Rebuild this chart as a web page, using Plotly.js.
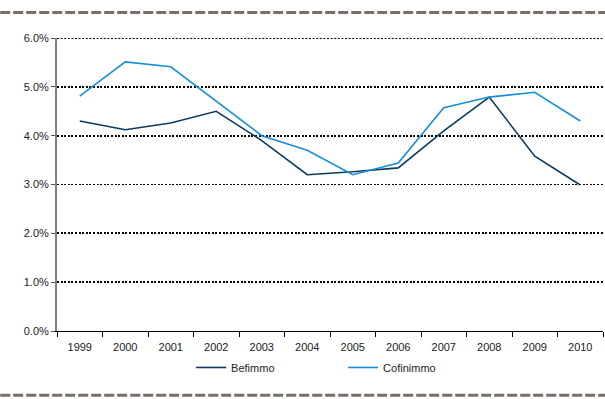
<!DOCTYPE html>
<html>
<head>
<meta charset="utf-8">
<script src="https://cdn.plot.ly/plotly-3.0.1.min.js"></script>
<style>
  html, body { margin: 0; padding: 0; background: #ffffff; }
  #chart { width: 605px; height: 399px; }
</style>
</head>
<body>
<div id="chart"></div>
<script>
// Yearly yields (%) of two Belgian property funds
var years = ['1999', '2000', '2001', '2002', '2003', '2004', '2005', '2006', '2007', '2008', '2009', '2010'];
var befimmo = [4.30, 4.12, 4.26, 4.50, 3.90, 3.20, 3.26, 3.34, 4.10, 4.79, 3.58, 2.99];
var cofinimmo = [4.81, 5.51, 5.41, 4.70, 4.00, 3.70, 3.20, 3.44, 4.57, 4.79, 4.89, 4.30];
var yTicks = [0, 1, 2, 3, 4, 5, 6];
var yTickLabels = ['0.0%', '1.0%', '2.0%', '3.0%', '4.0%', '5.0%', '6.0%'];

var font = { family: 'Liberation Sans, Arial, sans-serif', size: 11, color: '#222222' };

var traces = [
  { x: years, y: befimmo, name: 'Befimmo', type: 'scatter', mode: 'lines',
    line: { color: '#0e3a5e', width: 1.6 } },
  { x: years, y: cofinimmo, name: 'Cofinimmo', type: 'scatter', mode: 'lines',
    line: { color: '#1590d6', width: 1.6 } }
];

var dashBorder = { color: '#7a6f68', width: 3, dash: '10px,3px' };
var gridDots = '2px,1.6px';
var yMax = yTicks[yTicks.length - 1];

var layout = {
  width: 605, height: 399,
  margin: { l: 57, r: 2, t: 38, b: 68 },
  paper_bgcolor: '#ffffff', plot_bgcolor: '#ffffff',
  font: font,
  showlegend: true,
  legend: { orientation: 'h', x: 0.524, xanchor: 'center', y: -0.075, yanchor: 'top',
    entrywidth: 107, font: font, bgcolor: 'rgba(0,0,0,0)' },
  xaxis: {
    type: 'category', tickson: 'boundaries', range: [-0.5, 11.5],
    showgrid: false, showline: true, linecolor: '#000000', linewidth: 1,
    ticks: 'outside', ticklen: 5, tickcolor: '#000000', tickwidth: 1,
    ticklabelstandoff: 6,
    tickfont: font, fixedrange: true, zeroline: false
  },
  yaxis: {
    range: [0, yMax], tickvals: yTicks, ticktext: yTickLabels,
    showgrid: true, gridcolor: '#000000', griddash: gridDots, gridwidth: 1.8,
    showline: true, linecolor: '#808080', linewidth: 2,
    ticks: 'outside', ticklen: 4, tickcolor: '#555555', tickwidth: 1,
    tickfont: font, zeroline: false, fixedrange: true
  },
  shapes: [
    // top gridline sits on the plot edge, so it is drawn explicitly
    { type: 'line', xref: 'paper', yref: 'y', x0: 0, x1: 1, y0: yMax, y1: yMax,
      line: { color: '#000000', width: 1.8, dash: gridDots }, layer: 'below' },
    { type: 'line', xref: 'paper', yref: 'paper', x0: -0.104, x1: 1.0037, y0: 1.087, y1: 1.087, line: dashBorder },
    { type: 'line', xref: 'paper', yref: 'paper', x0: -0.104, x1: 1.0037, y0: -0.219, y1: -0.219, line: dashBorder }
  ]
};

Plotly.newPlot('chart', traces, layout, { displayModeBar: false, staticPlot: true });
</script>
</body>
</html>
